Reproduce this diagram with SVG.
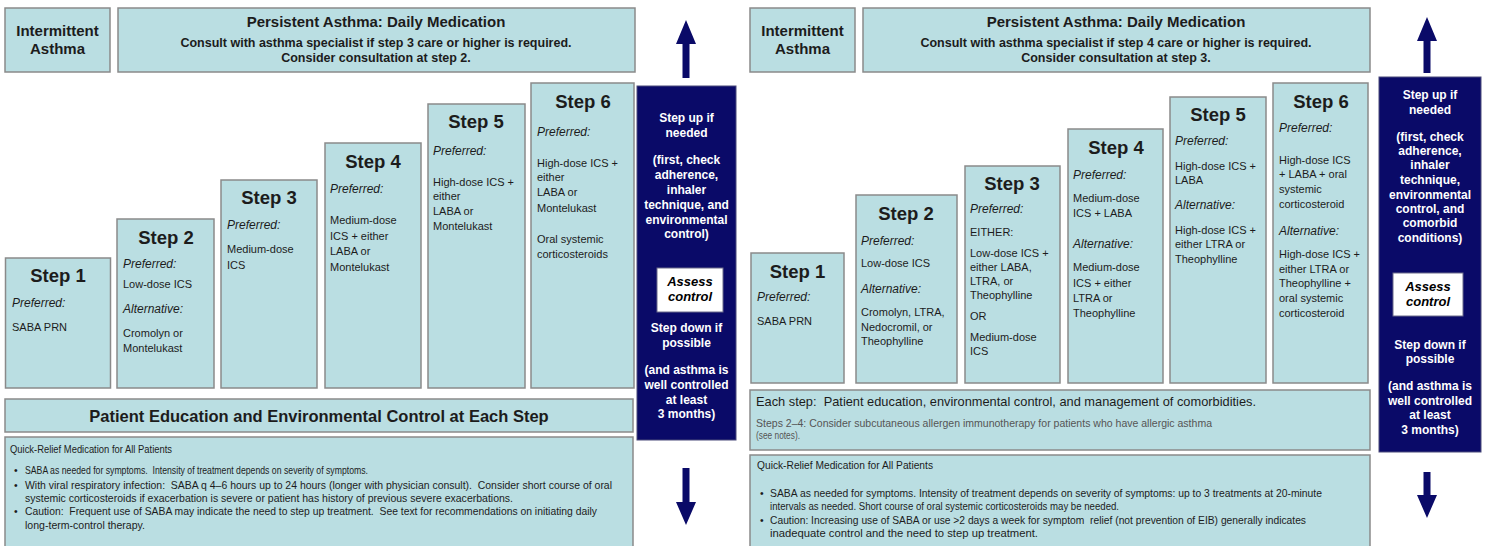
<svg xmlns="http://www.w3.org/2000/svg" width="1487" height="546" viewBox="0 0 1487 546">
<style>
.bg{fill:#ffffff}
.box{fill:#badee2;stroke:#8a8a8a;stroke-width:1.5}
.navy{fill:#0a0a68;stroke:#4a4a7a;stroke-width:1}
.wb{fill:#ffffff;stroke:#6a6a8a;stroke-width:1}
text{font-family:"Liberation Sans",Arial,sans-serif;fill:#1c1c1c}
.hd{font-weight:bold;font-size:18.5px;text-anchor:middle}
.ti{font-weight:bold;font-size:15px;text-anchor:middle}
.cs{font-weight:bold;font-size:12.5px;text-anchor:middle}
.pf{font-style:italic;font-size:12px}
.bd{font-size:11px}
.nv{font-weight:bold;font-size:12px;fill:#ffffff;text-anchor:middle}
.as{font-weight:bold;font-style:italic;font-size:13px;fill:#000000;text-anchor:middle}
.sm{font-size:10.4px}
.gr{fill:#555555}
.pe{font-weight:bold;font-size:16.5px;text-anchor:middle}
.es{font-size:13px}
.arr{fill:#0a0a68}
</style>
<rect class="bg" x="0" y="0" width="1487" height="546"/>

<!-- LEFT PANEL -->
<g id="left-intermittent">
<rect class="box" x="5" y="8" width="105" height="64"/>
<text class="ti" x="57.5" y="36">Intermittent</text>
<text class="ti" x="57.5" y="54">Asthma</text>
</g>
<g id="left-persistent">
<rect class="box" x="118" y="8" width="517" height="64"/>
<text class="ti" x="376" y="27">Persistent Asthma: Daily Medication</text>
<text class="cs" x="376" y="47">Consult with asthma specialist if step 3 care or higher is required.</text>
<text class="cs" x="376" y="62">Consider consultation at step 2.</text>
</g>
<g id="left-step1">
<rect class="box" x="5.5" y="258" width="105" height="130"/>
<text class="hd" x="58" y="282">Step 1</text>
<text class="pf" x="12" y="307">Preferred:</text>
<text class="bd" x="12" y="331">SABA PRN</text>
</g>
<g id="left-step2">
<rect class="box" x="117" y="219" width="97" height="169"/>
<text class="hd" x="166" y="244">Step 2</text>
<text class="pf" x="123" y="268">Preferred:</text>
<text class="bd" x="123" y="288">Low-dose ICS</text>
<text class="pf" x="123" y="313">Alternative:</text>
<text class="bd" x="123" y="337">Cromolyn or</text>
<text class="bd" x="123" y="352">Montelukast</text>
</g>
<g id="left-step3">
<rect class="box" x="221" y="180" width="96" height="208"/>
<text class="hd" x="269" y="204">Step 3</text>
<text class="pf" x="227" y="229">Preferred:</text>
<text class="bd" x="227" y="253">Medium-dose</text>
<text class="bd" x="227" y="269">ICS</text>
</g>
<g id="left-step4">
<rect class="box" x="325" y="143" width="96" height="245"/>
<text class="hd" x="373" y="168">Step 4</text>
<text class="pf" x="330" y="193">Preferred:</text>
<text class="bd" x="330" y="224">Medium-dose</text>
<text class="bd" x="330" y="240">ICS + either</text>
<text class="bd" x="330" y="255">LABA or</text>
<text class="bd" x="330" y="271">Montelukast</text>
</g>
<g id="left-step5">
<rect class="box" x="428" y="104" width="97" height="284"/>
<text class="hd" x="476" y="128">Step 5</text>
<text class="pf" x="433" y="155">Preferred:</text>
<text class="bd" x="433" y="186">High-dose ICS +</text>
<text class="bd" x="433" y="200">either</text>
<text class="bd" x="433" y="215">LABA or</text>
<text class="bd" x="433" y="230">Montelukast</text>
</g>
<g id="left-step6">
<rect class="box" x="531" y="83" width="103" height="305"/>
<text class="hd" x="583" y="108">Step 6</text>
<text class="pf" x="537" y="136">Preferred:</text>
<text class="bd" x="537" y="167">High-dose ICS +</text>
<text class="bd" x="537" y="181">either</text>
<text class="bd" x="537" y="196">LABA or</text>
<text class="bd" x="537" y="212">Montelukast</text>
<text class="bd" x="537" y="243">Oral systemic</text>
<text class="bd" x="537" y="258">corticosteroids</text>
</g>
<g id="left-stepupdown">
<rect class="navy" x="637" y="86" width="99" height="354"/>
<text class="nv" x="686.5" y="122">Step up if</text>
<text class="nv" x="686.5" y="137">needed</text>
<text class="nv" x="686.5" y="164">(first, check</text>
<text class="nv" x="686.5" y="179">adherence,</text>
<text class="nv" x="686.5" y="194">inhaler</text>
<text class="nv" x="686.5" y="209">technique, and</text>
<text class="nv" x="686.5" y="224">environmental</text>
<text class="nv" x="686.5" y="238">control)</text>
<rect class="wb" x="657" y="268" width="66" height="44"/>
<text class="as" x="690" y="286">Assess</text>
<text class="as" x="690" y="301">control</text>
<text class="nv" x="686.5" y="332">Step down if</text>
<text class="nv" x="686.5" y="347">possible</text>
<text class="nv" x="686.5" y="374">(and asthma is</text>
<text class="nv" x="686.5" y="389">well controlled</text>
<text class="nv" x="686.5" y="404">at least</text>
<text class="nv" x="686.5" y="418">3 months)</text>
</g>
<g id="left-education">
<rect class="box" x="5" y="399" width="628" height="33"/>
<text class="pe" x="319" y="422">Patient Education and Environmental Control at Each Step</text>
</g>
<g id="left-quickrelief">
<rect class="box" x="5" y="437" width="628" height="112"/>
<text class="sm" x="10" y="453" textLength="162" lengthAdjust="spacingAndGlyphs">Quick-Relief Medication for All Patients</text>
<text class="sm" x="14" y="474">•</text>
<text class="sm" x="25" y="474" xml:space="preserve" textLength="343" lengthAdjust="spacingAndGlyphs">SABA as needed for symptoms.  Intensity of treatment depends on severity of symptoms.</text>
<text class="sm" x="14" y="489">•</text>
<text class="sm" x="25" y="489" xml:space="preserve" textLength="587" lengthAdjust="spacingAndGlyphs">With viral respiratory infection:  SABA q 4–6 hours up to 24 hours (longer with physician consult).  Consider short course of oral</text>
<text class="sm" x="25" y="502" textLength="488" lengthAdjust="spacingAndGlyphs">systemic corticosteroids if exacerbation is severe or patient has history of previous severe exacerbations.</text>
<text class="sm" x="14" y="515">•</text>
<text class="sm" x="25" y="515" xml:space="preserve" textLength="572" lengthAdjust="spacingAndGlyphs">Caution:  Frequent use of SABA may indicate the need to step up treatment.  See text for recommendations on initiating daily</text>
<text class="sm" x="25" y="529" textLength="120" lengthAdjust="spacingAndGlyphs">long-term-control therapy.</text>
</g>

<!-- RIGHT PANEL -->
<g id="right-intermittent">
<rect class="box" x="750" y="8" width="105" height="64"/>
<text class="ti" x="802.5" y="36">Intermittent</text>
<text class="ti" x="802.5" y="54">Asthma</text>
</g>
<g id="right-persistent">
<rect class="box" x="863" y="8" width="507" height="64"/>
<text class="ti" x="1116" y="27">Persistent Asthma: Daily Medication</text>
<text class="cs" x="1116" y="47">Consult with asthma specialist if step 4 care or higher is required.</text>
<text class="cs" x="1116" y="62">Consider consultation at step 3.</text>
</g>
<g id="right-step1">
<rect class="box" x="751" y="253" width="93" height="130"/>
<text class="hd" x="797.5" y="278">Step 1</text>
<text class="pf" x="757" y="301">Preferred:</text>
<text class="bd" x="757" y="325">SABA PRN</text>
</g>
<g id="right-step2">
<rect class="box" x="856" y="195" width="101" height="188"/>
<text class="hd" x="906" y="220">Step 2</text>
<text class="pf" x="861" y="245">Preferred:</text>
<text class="bd" x="861" y="267">Low-dose ICS</text>
<text class="pf" x="861" y="293">Alternative:</text>
<text class="bd" x="861" y="316">Cromolyn, LTRA,</text>
<text class="bd" x="861" y="331">Nedocromil, or</text>
<text class="bd" x="861" y="345">Theophylline</text>
</g>
<g id="right-step3">
<rect class="box" x="965" y="166" width="95" height="217"/>
<text class="hd" x="1012" y="190">Step 3</text>
<text class="pf" x="970" y="213">Preferred:</text>
<text class="bd" x="970" y="236">EITHER:</text>
<text class="bd" x="970" y="257">Low-dose ICS +</text>
<text class="bd" x="970" y="271">either LABA,</text>
<text class="bd" x="970" y="285">LTRA, or</text>
<text class="bd" x="970" y="299">Theophylline</text>
<text class="bd" x="970" y="320">OR</text>
<text class="bd" x="970" y="341">Medium-dose</text>
<text class="bd" x="970" y="355">ICS</text>
</g>
<g id="right-step4">
<rect class="box" x="1068" y="129" width="95" height="254"/>
<text class="hd" x="1116" y="154">Step 4</text>
<text class="pf" x="1073" y="179">Preferred:</text>
<text class="bd" x="1073" y="202">Medium-dose</text>
<text class="bd" x="1073" y="217">ICS + LABA</text>
<text class="pf" x="1073" y="248">Alternative:</text>
<text class="bd" x="1073" y="271">Medium-dose</text>
<text class="bd" x="1073" y="287">ICS + either</text>
<text class="bd" x="1073" y="302">LTRA or</text>
<text class="bd" x="1073" y="317">Theophylline</text>
</g>
<g id="right-step5">
<rect class="box" x="1170" y="97" width="96" height="286"/>
<text class="hd" x="1218" y="121">Step 5</text>
<text class="pf" x="1175" y="145">Preferred:</text>
<text class="bd" x="1175" y="170">High-dose ICS +</text>
<text class="bd" x="1175" y="184">LABA</text>
<text class="pf" x="1175" y="209">Alternative:</text>
<text class="bd" x="1175" y="234">High-dose ICS +</text>
<text class="bd" x="1175" y="248">either LTRA or</text>
<text class="bd" x="1175" y="263">Theophylline</text>
</g>
<g id="right-step6">
<rect class="box" x="1273" y="83" width="95" height="300"/>
<text class="hd" x="1321" y="108">Step 6</text>
<text class="pf" x="1279" y="132">Preferred:</text>
<text class="bd" x="1279" y="164">High-dose ICS</text>
<text class="bd" x="1279" y="178">+ LABA + oral</text>
<text class="bd" x="1279" y="193">systemic</text>
<text class="bd" x="1279" y="208">corticosteroid</text>
<text class="pf" x="1279" y="235">Alternative:</text>
<text class="bd" x="1279" y="258">High-dose ICS +</text>
<text class="bd" x="1279" y="273">either LTRA or</text>
<text class="bd" x="1279" y="287">Theophylline +</text>
<text class="bd" x="1279" y="302">oral systemic</text>
<text class="bd" x="1279" y="317">corticosteroid</text>
</g>
<g id="right-stepupdown">
<rect class="navy" x="1379" y="77" width="102" height="375"/>
<text class="nv" x="1430" y="99">Step up if</text>
<text class="nv" x="1430" y="114">needed</text>
<text class="nv" x="1430" y="141">(first, check</text>
<text class="nv" x="1430" y="155">adherence,</text>
<text class="nv" x="1430" y="169">inhaler</text>
<text class="nv" x="1430" y="184">technique,</text>
<text class="nv" x="1430" y="199">environmental</text>
<text class="nv" x="1430" y="213">control, and</text>
<text class="nv" x="1430" y="227">comorbid</text>
<text class="nv" x="1430" y="242">conditions)</text>
<rect class="wb" x="1393" y="273" width="70" height="43"/>
<text class="as" x="1428" y="291">Assess</text>
<text class="as" x="1428" y="306">control</text>
<text class="nv" x="1430" y="349">Step down if</text>
<text class="nv" x="1430" y="363">possible</text>
<text class="nv" x="1430" y="390">(and asthma is</text>
<text class="nv" x="1430" y="405">well controlled</text>
<text class="nv" x="1430" y="419">at least</text>
<text class="nv" x="1430" y="434">3 months)</text>
</g>
<g id="right-eachstep">
<rect class="box" x="750" y="390" width="620" height="60"/>
<text class="es" x="756" y="406" xml:space="preserve" textLength="500" lengthAdjust="spacingAndGlyphs">Each step:  Patient education, environmental control, and management of comorbidities.</text>
<text class="sm gr" x="756" y="427" textLength="456" lengthAdjust="spacingAndGlyphs">Steps 2–4: Consider subcutaneous allergen immunotherapy for patients who have allergic asthma</text>
<text class="sm gr" x="756" y="439" textLength="44" lengthAdjust="spacingAndGlyphs">(see notes).</text>
</g>
<g id="right-quickrelief">
<rect class="box" x="750" y="455" width="620" height="94"/>
<text class="sm" x="757" y="469" textLength="176" lengthAdjust="spacingAndGlyphs">Quick-Relief Medication for All Patients</text>
<text class="sm" x="760" y="497">•</text>
<text class="sm" x="770" y="497" textLength="552" lengthAdjust="spacingAndGlyphs">SABA as needed for symptoms. Intensity of treatment depends on severity of symptoms: up to 3 treatments at 20-minute</text>
<text class="sm" x="770" y="510" textLength="349" lengthAdjust="spacingAndGlyphs">intervals as needed. Short course of oral systemic corticosteroids may be needed.</text>
<text class="sm" x="760" y="524">•</text>
<text class="sm" x="770" y="524" xml:space="preserve" textLength="536" lengthAdjust="spacingAndGlyphs">Caution: Increasing use of SABA or use &gt;2 days a week for symptom  relief (not prevention of EIB) generally indicates</text>
<text class="sm" x="770" y="537" textLength="268" lengthAdjust="spacingAndGlyphs">inadequate control and the need to step up treatment.</text>
</g>

<g id="connectors">
<polygon class="arr" points="686,20 696,44 689.5,44 689.5,78 682.5,78 682.5,44 676,44"/>
<polygon class="arr" points="686,525 696,502 689.5,502 689.5,468 682.5,468 682.5,502 676,502"/>
<polygon class="arr" points="1427,17 1437,41 1430.5,41 1430.5,73 1423.5,73 1423.5,41 1417,41"/>
<polygon class="arr" points="1427,518 1437,495 1430.5,495 1430.5,472 1423.5,472 1423.5,495 1417,495"/>
</g>
</svg>
